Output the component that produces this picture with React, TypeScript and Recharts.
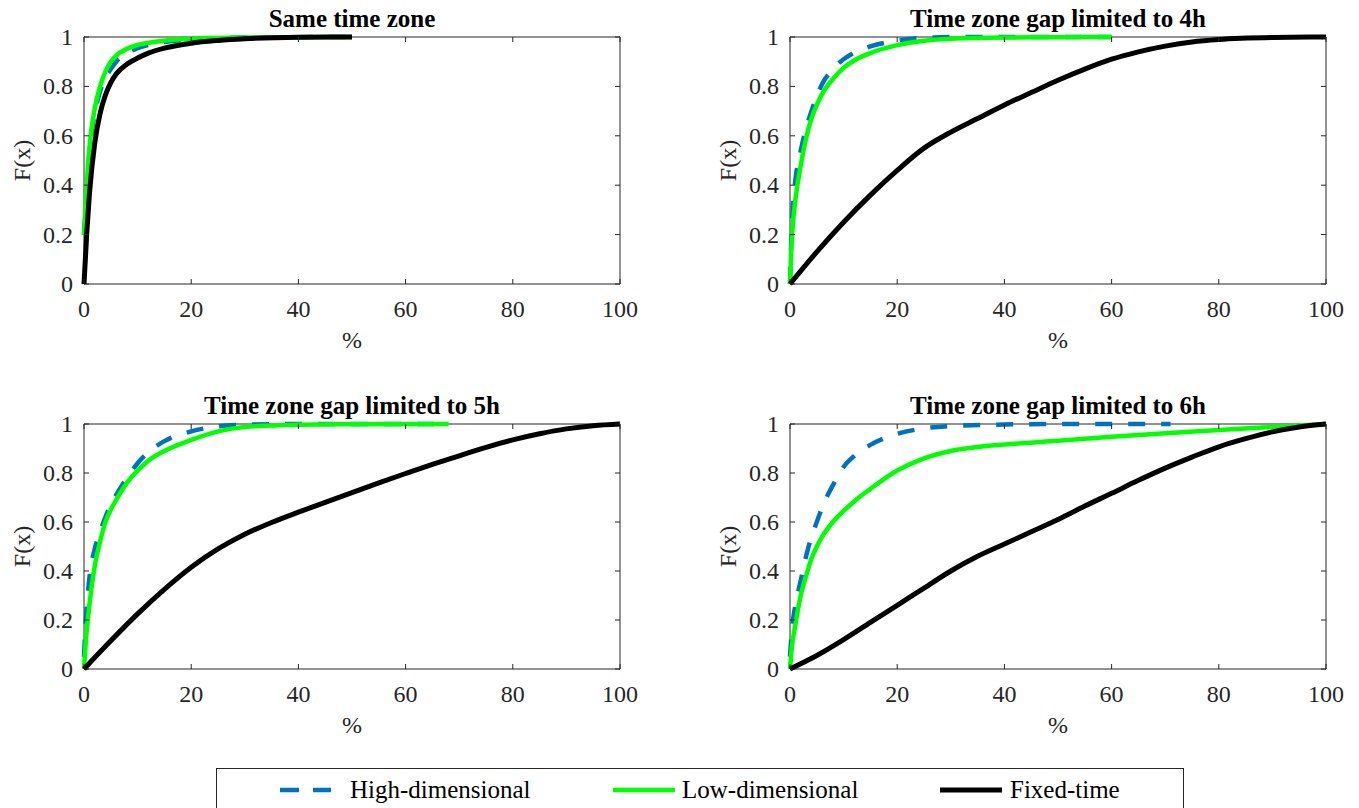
import React from "react";
import { LineChart, Line, XAxis, YAxis, ReferenceArea } from "recharts";

const FONT = '"Liberation Serif", "Times New Roman", Times, serif';
const AXIS = "#262626";

const X_TICKS = [0, 20, 40, 60, 80, 100];
const Y_TICKS = [0, 0.2, 0.4, 0.6, 0.8, 1];

// [x %, F(x)] pairs per panel and method
const sameHigh = [[0, 0.2], [0.3, 0.3], [1, 0.53], [2, 0.69], [3, 0.78], [4, 0.835], [5, 0.87], [6, 0.9], [8, 0.935], [10, 0.955], [13, 0.972], [16, 0.983], [20, 0.99], [30, 0.998], [50, 1]];
const sameLow = [[0, 0.2], [0.2, 0.27], [0.5, 0.4], [1, 0.55], [2, 0.71], [3, 0.8], [4, 0.86], [5, 0.9], [6, 0.925], [8, 0.952], [10, 0.968], [13, 0.98], [16, 0.988], [20, 0.993], [30, 0.998], [50, 1]];
const sameFixed = [[0, 0], [0.5, 0.2], [1, 0.36], [2, 0.57], [3, 0.69], [4, 0.765], [5, 0.815], [6, 0.85], [8, 0.89], [10, 0.915], [12, 0.935], [15, 0.955], [20, 0.975], [25, 0.986], [30, 0.993], [40, 0.999], [50, 1]];

const gap4High = [[0, 0], [0.2, 0.15], [0.5, 0.3], [1, 0.42], [2, 0.54], [3, 0.63], [4, 0.7], [5, 0.76], [6, 0.81], [8, 0.87], [10, 0.91], [12, 0.937], [15, 0.962], [20, 0.985], [25, 0.996], [30, 1], [60, 1]];
const gap4Low = [[0, 0], [0.2, 0.12], [0.6, 0.26], [1, 0.34], [2, 0.48], [3, 0.59], [4, 0.67], [5, 0.725], [6, 0.77], [8, 0.83], [10, 0.875], [12, 0.905], [15, 0.935], [20, 0.967], [25, 0.985], [30, 0.993], [40, 0.998], [50, 0.999], [60, 1]];
const gap4Fixed = [[0, 0], [5, 0.13], [10, 0.25], [15, 0.36], [20, 0.46], [25, 0.55], [30, 0.615], [35, 0.67], [40, 0.725], [45, 0.775], [50, 0.825], [55, 0.87], [60, 0.91], [65, 0.94], [70, 0.963], [75, 0.98], [80, 0.99], [90, 0.998], [100, 1]];

const gap5High = [[0, 0.05], [0.4, 0.22], [1, 0.37], [2, 0.49], [3, 0.56], [4, 0.62], [5, 0.67], [6, 0.71], [8, 0.78], [10, 0.84], [12, 0.885], [15, 0.93], [20, 0.97], [25, 0.99], [30, 0.997], [40, 1], [68, 1]];
const gap5Low = [[0, 0], [0.3, 0.1], [1, 0.26], [2, 0.42], [3, 0.52], [4, 0.6], [5, 0.65], [6, 0.69], [8, 0.76], [10, 0.81], [12, 0.85], [15, 0.89], [20, 0.935], [25, 0.97], [30, 0.988], [40, 0.997], [50, 0.999], [68, 1]];
const gap5Fixed = [[0, 0], [5, 0.115], [10, 0.225], [15, 0.325], [20, 0.415], [25, 0.49], [30, 0.55], [35, 0.598], [40, 0.64], [45, 0.68], [50, 0.72], [55, 0.76], [60, 0.798], [65, 0.835], [70, 0.87], [75, 0.905], [80, 0.935], [85, 0.96], [90, 0.98], [95, 0.993], [100, 1]];

const gap6High = [[0, 0.05], [0.3, 0.146], [1, 0.26], [2, 0.36], [3, 0.46], [4, 0.54], [5, 0.6], [6, 0.66], [8, 0.75], [10, 0.825], [12, 0.87], [15, 0.915], [20, 0.96], [25, 0.982], [30, 0.992], [40, 0.998], [50, 1], [71, 1]];
const gap6Low = [[0, 0], [0.3, 0.08], [1, 0.18], [2, 0.3], [3, 0.38], [4, 0.45], [5, 0.5], [6, 0.54], [8, 0.6], [10, 0.645], [12, 0.685], [15, 0.735], [20, 0.81], [25, 0.86], [30, 0.89], [35, 0.906], [40, 0.916], [50, 0.932], [60, 0.948], [70, 0.962], [80, 0.976], [90, 0.988], [100, 1]];
const gap6Fixed = [[0, 0], [5, 0.055], [10, 0.12], [15, 0.19], [20, 0.26], [25, 0.33], [30, 0.4], [35, 0.46], [40, 0.51], [45, 0.56], [50, 0.61], [55, 0.665], [60, 0.717], [65, 0.77], [70, 0.82], [75, 0.865], [80, 0.907], [85, 0.94], [90, 0.968], [95, 0.988], [100, 1]];

const SERIES = [
  { key: "high", name: "High-dimensional", color: "#0072BD", dash: "17 16", width: 4.5 },
  { key: "low", name: "Low-dimensional", color: "#00FF00", dash: undefined, width: 4.5 },
  { key: "fixed", name: "Fixed-time", color: "#000000", dash: undefined, width: 5 },
];

const PANELS = [
  { title: "Same time zone", left: 84, top: 37, plotW: 536, plotH: 247, lines: { high: sameHigh, low: sameLow, fixed: sameFixed } },
  { title: "Time zone gap limited to 4h", left: 790, top: 37, plotW: 536, plotH: 247, lines: { high: gap4High, low: gap4Low, fixed: gap4Fixed } },
  { title: "Time zone gap limited to 5h", left: 84, top: 424, plotW: 536, plotH: 245, lines: { high: gap5High, low: gap5Low, fixed: gap5Fixed } },
  { title: "Time zone gap limited to 6h", left: 790, top: 424, plotW: 536, plotH: 245, lines: { high: gap6High, low: gap6Low, fixed: gap6Fixed } },
];

const Y_AXIS_W = 84;
const X_AXIS_H = 70;
const TOP_PAD = 37;
const RIGHT_PAD = 20;
const TICK = 5;

const toPoints = (pairs: number[][]) => pairs.map(([x, y]) => ({ x, y }));

// inward ticks on both bottom and top edges, label under the bottom one
function XTick({ x, y, payload, plotH }: any) {
  return (
    <g>
      <line x1={x} x2={x} y1={y} y2={y - TICK} stroke={AXIS} />
      <line x1={x} x2={x} y1={y - plotH} y2={y - plotH + TICK} stroke={AXIS} />
      <text x={x} y={y + 33} textAnchor="middle" fill={AXIS} fontSize={24} fontFamily={FONT}>
        {String(payload.value)}
      </text>
    </g>
  );
}

// inward ticks on left and right edges, label to the left
function YTick({ x, y, payload, plotW }: any) {
  return (
    <g>
      <line x1={x} x2={x + TICK} y1={y} y2={y} stroke={AXIS} />
      <line x1={x + plotW} x2={x + plotW - TICK} y1={y} y2={y} stroke={AXIS} />
      <text x={x - 11} y={y + 8} textAnchor="end" fill={AXIS} fontSize={24} fontFamily={FONT}>
        {String(payload.value)}
      </text>
    </g>
  );
}

function Panel({ panel }: any) {
  const { title, left, top, plotW, plotH, lines } = panel;
  return (
    <>
      <div
        style={{
          position: "absolute",
          left,
          top: top - 30,
          width: plotW,
          textAlign: "center",
          font: `bold 25px/24px ${FONT}`,
          color: "#000",
          whiteSpace: "nowrap",
        }}
      >
        {title}
      </div>
      <div style={{ position: "absolute", left: left - Y_AXIS_W, top: top - TOP_PAD }}>
        <LineChart
          width={Y_AXIS_W + plotW + RIGHT_PAD}
          height={TOP_PAD + plotH + X_AXIS_H}
          margin={{ top: TOP_PAD, right: RIGHT_PAD, bottom: 0, left: 0 }}
        >
          <XAxis
            type="number"
            dataKey="x"
            domain={[0, 100]}
            ticks={X_TICKS}
            interval={0}
            height={X_AXIS_H}
            tickSize={0}
            tickMargin={0}
            axisLine={false}
            tick={(p: any) => <XTick {...p} plotH={plotH} />}
            label={{
              content: ({ viewBox }: any) => (
                <text
                  x={viewBox.x + viewBox.width / 2}
                  y={viewBox.y + 64}
                  textAnchor="middle"
                  fill={AXIS}
                  fontSize={24}
                  fontFamily={FONT}
                >
                  %
                </text>
              ),
            }}
          />
          <YAxis
            type="number"
            dataKey="y"
            domain={[0, 1]}
            ticks={Y_TICKS}
            interval={0}
            width={Y_AXIS_W}
            tickSize={0}
            tickMargin={0}
            axisLine={false}
            tick={(p: any) => <YTick {...p} plotW={plotW} />}
            label={{
              content: ({ viewBox }: any) => {
                const cy = viewBox.y + viewBox.height / 2;
                return (
                  <text
                    x={22}
                    y={cy}
                    transform={`rotate(-90, 22, ${cy})`}
                    textAnchor="middle"
                    dominantBaseline="central"
                    fill={AXIS}
                    fontSize={24}
                    fontFamily={FONT}
                  >
                    F(x)
                  </text>
                );
              },
            }}
          />
          <ReferenceArea x1={0} x2={100} y1={0} y2={1} fill="none" stroke={AXIS} strokeWidth={1} />
          {SERIES.map((s) => (
            <Line
              key={s.key}
              data={toPoints(lines[s.key])}
              dataKey="y"
              type="monotone"
              stroke={s.color}
              strokeWidth={s.width}
              strokeDasharray={s.dash}
              dot={false}
              activeDot={false}
              isAnimationActive={false}
            />
          ))}
        </LineChart>
      </div>
    </>
  );
}

function LegendBox() {
  const items = [
    { s: SERIES[0], x1: 280, x2: 331, tx: 350 },
    { s: SERIES[1], x1: 613, x2: 675, tx: 682 },
    { s: SERIES[2], x1: 940, x2: 1002, tx: 1010 },
  ];
  const boxLeft = 216;
  const boxTop = 768;
  return (
    <div
      style={{
        position: "absolute",
        left: boxLeft,
        top: boxTop,
        width: 968,
        height: 60,
        border: `1px solid ${AXIS}`,
        boxSizing: "border-box",
        background: "#fff",
      }}
    >
      <svg width={968} height={60} style={{ position: "absolute", left: -1, top: -1 }}>
        {items.map(({ s, x1, x2, tx }) => (
          <g key={s.key}>
            <line
              x1={x1 - boxLeft}
              x2={x2 - boxLeft}
              y1={22}
              y2={22}
              stroke={s.color}
              strokeWidth={s.width}
              strokeDasharray={s.dash ? "19 14" : undefined}
            />
            <text x={tx - boxLeft} y={30} fill="#000" fontSize={25} fontFamily={FONT}>
              {s.name}
            </text>
          </g>
        ))}
      </svg>
    </div>
  );
}

export default function App() {
  return (
    <div
      style={{
        position: "absolute",
        left: 0,
        top: 0,
        width: 1359,
        height: 808,
        overflow: "hidden",
        background: "#fff",
        fontFamily: FONT,
      }}
    >
      {PANELS.map((p) => (
        <Panel key={p.title} panel={p} />
      ))}
      <LegendBox />
    </div>
  );
}
